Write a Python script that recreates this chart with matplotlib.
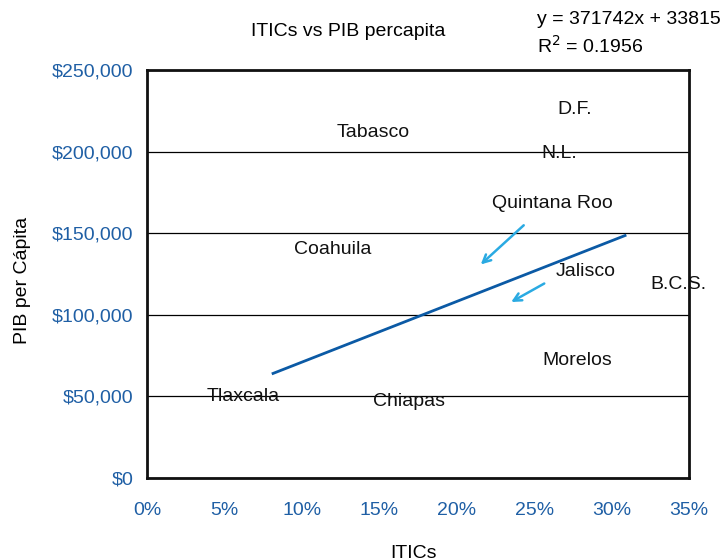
import matplotlib.pyplot as plt
from matplotlib.ticker import FuncFormatter, PercentFormatter

plt.rcParams['font.family'] = ['Liberation Sans', 'DejaVu Sans']

estados = ['Tabasco', 'D.F.', 'N.L.', 'Quintana Roo', 'Coahuila', 'Jalisco',
           'B.C.S.', 'Morelos', 'Tlaxcala', 'Chiapas']
itics = [0.146, 0.276, 0.266, 0.262, 0.120, 0.283, 0.343, 0.278, 0.062, 0.169]
pib = [211400, 225500, 199100, 168500, 140300, 126800, 118300, 72300, 50200, 46600]

pendiente = 371742
intercepto = 33815
r2 = 0.1956
trend_x = [0.0814, 0.3087]

azul = '#1f5fa5'
fs = 14

fig = plt.figure(figsize=(7.25, 5.6), dpi=100)
ax = fig.add_axes([147 / 725, 1 - 478 / 560, 542 / 725, 408 / 560])

for nombre, x, y in zip(estados, itics, pib):
    ax.text(x, y, nombre, ha='center', va='center', fontsize=fs, color='#111111')

trend_y = [pendiente * x + intercepto for x in trend_x]
ax.plot(trend_x, trend_y, color='#0b5aa5', linewidth=2)

# flechas de Quintana Roo y Jalisco
flechas = [((0.2446, 156000), (0.2142, 129700)), ((0.2581, 120000), (0.2336, 107000))]
for (x0, y0), (x1, y1) in flechas:
    ax.annotate('', xy=(x1, y1), xytext=(x0, y0),
                arrowprops=dict(arrowstyle='->', color='#2aaae2', lw=1.8,
                                mutation_scale=14))

ax.set_xlim(0, 0.35)
ax.set_ylim(0, 250000)
ax.set_xticks([0, 0.05, 0.10, 0.15, 0.20, 0.25, 0.30, 0.35])
ax.set_yticks(range(0, 250001, 50000))
ax.xaxis.set_major_formatter(PercentFormatter(1.0, decimals=0))
ax.yaxis.set_major_formatter(FuncFormatter(lambda v, p: f'${v:,.0f}'))
ax.tick_params(axis='both', length=0, labelsize=fs, labelcolor=azul)
ax.tick_params(axis='x', pad=17)
ax.tick_params(axis='y', pad=10)
ax.grid(axis='y', color='black', linewidth=0.9)
ax.set_axisbelow(True)
for s in ax.spines.values():
    s.set_linewidth(2)
    s.set_color('#111111')

ax.set_xlabel('ITICs', fontsize=fs)
ax.set_ylabel('PIB per Cápita', fontsize=fs)
ax.xaxis.set_label_coords(0.491, -0.163)
ax.yaxis.set_label_coords(-0.214, 0.485)

fig.text(348 / 725, 1 - 32 / 560, 'ITICs vs PIB percapita', ha='center', va='center', fontsize=fs)
fig.text(537 / 725, 1 - 20 / 560, f'y = {pendiente}x + {intercepto}', ha='left', va='center', fontsize=fs)
fig.text(537 / 725, 1 - 46 / 560, f'R$^2$ = {r2}', ha='left', va='center', fontsize=fs)

fig.savefig('out.png', dpi=100)
